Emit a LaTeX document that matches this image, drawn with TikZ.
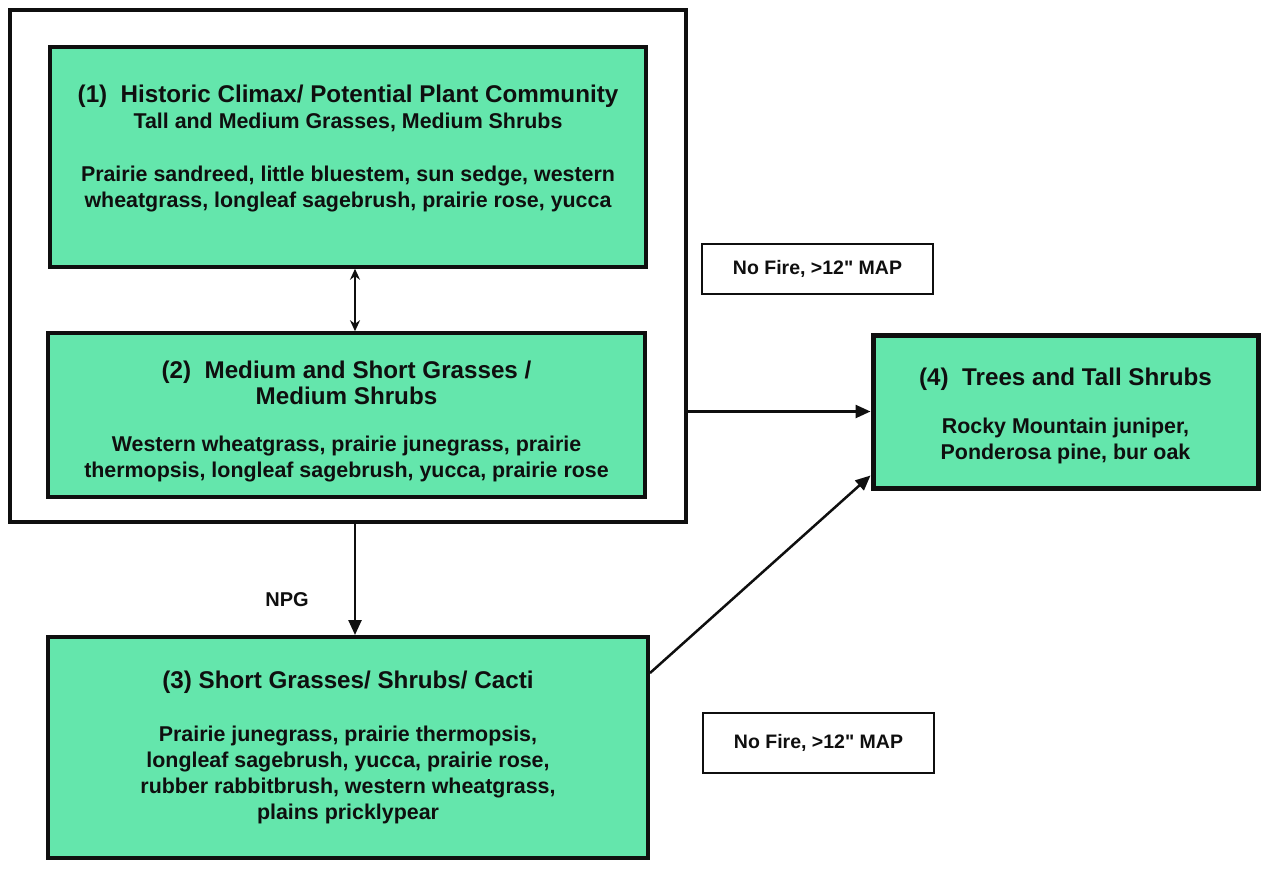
\documentclass[tikz,border=0pt]{standalone}
\usepackage{fontspec}
\setmainfont{Liberation Sans}
\usetikzlibrary{arrows.meta}
\definecolor{mint}{RGB}{100,230,172}
\definecolor{ink}{RGB}{15,15,15}
\begin{document}
\begin{tikzpicture}[x=1pt,y=-1pt,
 greenbox/.style={draw=ink, fill=mint, line width=3.5pt, inner sep=0pt},
 labelbox/.style={draw=ink, line width=1.5pt, fill=white, inner sep=0pt, minimum width=231pt, font=\fontsize{19.5}{24}\selectfont\bfseries, text=ink},
 txt/.style={align=center, text=ink, inner sep=0pt, anchor=north, font=\fontsize{21.4}{26}\selectfont\bfseries},
 arr/.style={draw=ink, line width=2.5pt, -{Triangle[length=15pt,width=13pt]}},
 dblarr/.style={draw=ink, line width=2pt, {Stealth[length=11pt,width=10pt]}-{Stealth[length=11pt,width=10pt]}},
]
\newcommand{\ttlfont}{\fontsize{24.2}{26}\selectfont}
\useasboundingbox (0,0) rectangle (1264,868);
\fill[white] (0,0) rectangle (1264,868);

\node[draw=ink, line width=4pt, minimum width=676pt, minimum height=512pt, inner sep=0pt] (outer) at (348,266) {};

\node[greenbox, minimum width=596pt, minimum height=220pt] (b1) at (348,157) {};
\node[txt] (b1t) at (348,85) {{\ttlfont (1)\ \ Historic Climax/ Potential Plant Community}\\
Tall and Medium Grasses, Medium Shrubs\\[27pt]
Prairie sandreed, little bluestem, sun sedge, western\\
wheatgrass, longleaf sagebrush, prairie rose, yucca};

\node[greenbox, minimum width=597pt, minimum height=164pt] (b2) at (346.5,415) {};
\node[txt] (b2t) at (346.5,361) {{\ttlfont (2)\ \ Medium and Short Grasses /}\\
{\ttlfont Medium Shrubs}\\[21pt]
Western wheatgrass, prairie junegrass, prairie\\
thermopsis, longleaf sagebrush, yucca, prairie rose};

\node[greenbox, line width=4pt, minimum width=600pt, minimum height=221pt] (b3) at (348,747.5) {};
\node[txt] (b3t) at (348,671) {{\ttlfont (3) Short Grasses/ Shrubs/ Cacti}\\[27pt]
Prairie junegrass, prairie thermopsis,\\
longleaf sagebrush, yucca, prairie rose,\\
rubber rabbitbrush, western wheatgrass,\\
plains pricklypear};

\node[greenbox, line width=5pt, minimum width=385pt, minimum height=153pt] (b4) at (1065.5,411.5) {};
\node[txt] (b4t) at (1065.5,368) {{\ttlfont (4)\ \ Trees and Tall Shrubs}\\[22pt]
Rocky Mountain juniper,\\
Ponderosa pine, bur oak};

\node[labelbox, minimum height=50pt] (l1) at (817.5,269) {No Fire, >12\textquotedbl{} MAP};
\node[labelbox, minimum height=60pt] (l2) at (818.5,743) {No Fire, >12\textquotedbl{} MAP};
\node[text=ink, inner sep=0pt, font=\fontsize{20}{24}\selectfont\bfseries] (npg) at (287,600) {NPG};

\draw[dblarr] ([xshift=7pt]b1.south) -- ([xshift=7pt]b1.south |- b2.north);
\draw[arr] (outer.east |- b4.west) -- (b4.west);
\draw[arr] ([xshift=7pt]outer.south) -- ([xshift=7pt]outer.south |- b3.north);
\draw[arr] ([yshift=-38pt]b3.north east) -- ([yshift=-64pt]b4.west);
\end{tikzpicture}
\end{document}
